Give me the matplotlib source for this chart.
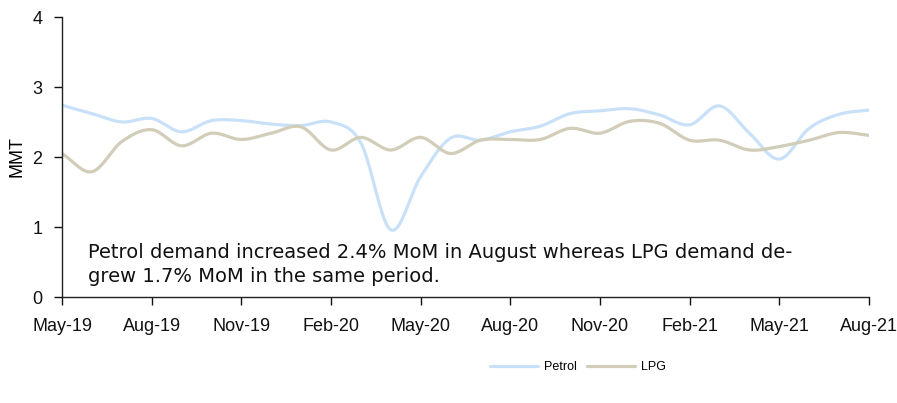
import numpy as np
import matplotlib
matplotlib.use("Agg")
import matplotlib.pyplot as plt

months = ["May-19", "Jun-19", "Jul-19", "Aug-19", "Sep-19", "Oct-19", "Nov-19", "Dec-19",
          "Jan-20", "Feb-20", "Mar-20", "Apr-20", "May-20", "Jun-20", "Jul-20", "Aug-20",
          "Sep-20", "Oct-20", "Nov-20", "Dec-20", "Jan-21", "Feb-21", "Mar-21", "Apr-21",
          "May-21", "Jun-21", "Jul-21", "Aug-21"]
petrol = [2.74, 2.62, 2.50, 2.55, 2.36, 2.52, 2.52, 2.47, 2.45, 2.50, 2.20, 0.96,
          1.72, 2.27, 2.24, 2.36, 2.44, 2.62, 2.66, 2.69, 2.60, 2.46, 2.73, 2.34,
          1.97, 2.41, 2.61, 2.67]
lpg = [2.05, 1.79, 2.22, 2.39, 2.16, 2.34, 2.25, 2.34, 2.43, 2.10, 2.28, 2.10,
       2.28, 2.05, 2.24, 2.25, 2.25, 2.41, 2.34, 2.51, 2.48, 2.24, 2.24, 2.10,
       2.15, 2.24, 2.35, 2.31]
tick_labels = months[::3]
annotation = ("Petrol demand increased 2.4% MoM in August whereas LPG demand de-\n"
              "grew 1.7% MoM in the same period.")

tick_font = "Liberation Sans"
text_font = "DejaVu Sans"


def smooth(x, y, n=20):
    # Catmull-Rom smoothing for drawing (like Excel smoothed lines)
    x = np.asarray(x, float)
    y = np.asarray(y, float)
    px = np.concatenate([[2 * x[0] - x[1]], x, [2 * x[-1] - x[-2]]])
    py = np.concatenate([[2 * y[0] - y[1]], y, [2 * y[-1] - y[-2]]])
    xs, ys = [], []
    t = np.linspace(0, 1, n, endpoint=False)
    for i in range(1, len(px) - 2):
        p0, p1, p2, p3 = py[i - 1], py[i], py[i + 1], py[i + 2]
        q0, q1, q2, q3 = px[i - 1], px[i], px[i + 1], px[i + 2]
        ys.append(0.5 * ((2 * p1) + (-p0 + p2) * t + (2 * p0 - 5 * p1 + 4 * p2 - p3) * t**2
                         + (-p0 + 3 * p1 - 3 * p2 + p3) * t**3))
        xs.append(0.5 * ((2 * q1) + (-q0 + q2) * t + (2 * q0 - 5 * q1 + 4 * q2 - q3) * t**2
                         + (-q0 + 3 * q1 - 3 * q2 + q3) * t**3))
    xs.append([x[-1]])
    ys.append([y[-1]])
    return np.concatenate(xs), np.concatenate(ys)


fig = plt.figure(figsize=(8.97, 4.03), dpi=100)
ax = fig.add_axes([62 / 897, 1 - 297 / 403, (869 - 62) / 897, (297 - 17) / 403])

x = np.arange(len(months))
sx, sy = smooth(x, petrol)
ax.plot(sx, sy, color="#C9E1F8", lw=2.3, label="Petrol", solid_capstyle="round")
sx, sy = smooth(x, lpg)
ax.plot(sx, sy, color="#D1CDB9", lw=2.3, label="LPG", solid_capstyle="round")

ax.set_xlim(0, len(months) - 1)
ax.set_ylim(0, 4)
ax.set_xticks(x[::3])
ax.set_xticklabels(tick_labels, fontfamily=tick_font, fontsize=13)
ax.set_yticks([0, 1, 2, 3, 4])
ax.set_yticklabels(["0", "1", "2", "3", "4"], fontfamily=tick_font, fontsize=13)
ax.tick_params(axis="x", direction="out", length=6, width=1, pad=9, colors="#111111")
ax.tick_params(axis="y", direction="out", length=6, width=1, pad=8, colors="#111111")
for s in ["top", "right"]:
    ax.spines[s].set_visible(False)
for s in ["left", "bottom"]:
    ax.spines[s].set_color("#222222")
    ax.spines[s].set_linewidth(1)
ax.set_ylabel("MMT", fontfamily=tick_font, fontsize=13)
ax.yaxis.set_label_coords(-0.045, 0.5)

ax.text(0.032, 0.04, annotation, transform=ax.transAxes, fontfamily=text_font,
        fontsize=14, color="#111111", va="bottom", ha="left", linespacing=1.3)

leg = fig.legend(loc="center", bbox_to_anchor=(578 / 897, 1 - 367 / 403), ncol=2, frameon=False,
                 prop={"family": tick_font, "size": 9}, handlelength=3.8, columnspacing=0.8,
                 handletextpad=0.5)

fig.savefig("out.png", dpi=100)
